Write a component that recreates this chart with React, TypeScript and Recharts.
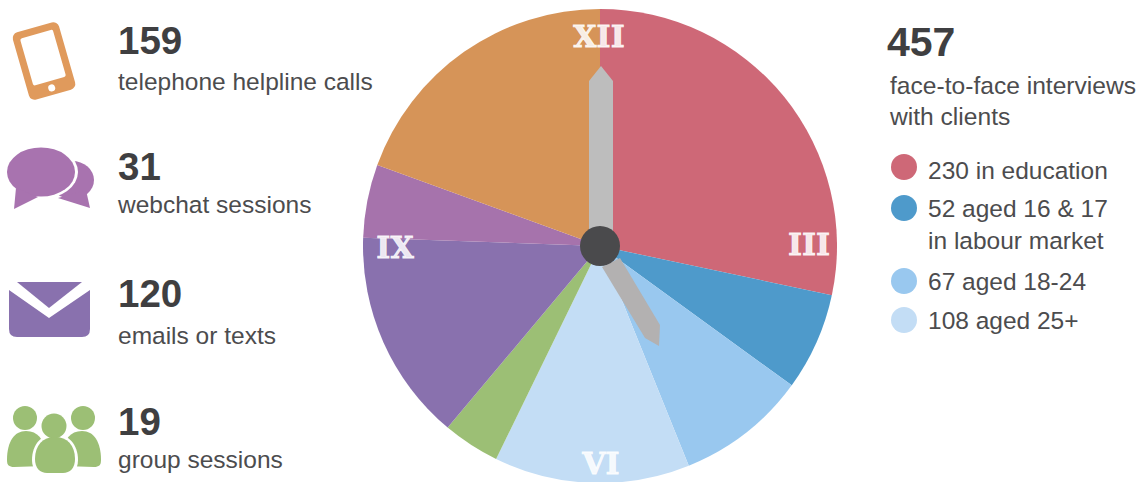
import { Cell, Pie, PieChart } from "recharts";

const segmentNames = [
  "230 in education",
  "52 aged 16 & 17 in labour market",
  "67 aged 18-24",
  "108 aged 25+",
  "group sessions",
  "emails or texts",
  "webchat sessions",
  "telephone helpline calls",
];
// slice sizes as measured off the dial, the drawn wedges are not quite proportional to the counts
const segmentValues = [102, 24, 32, 48, 14, 52, 18, 70];
const segmentColors = ["#CE6877", "#4E9ACB", "#99C8EF", "#C3DDF5", "#9CBF75", "#8971AE", "#A673AC", "#D69458"];

const data = segmentNames.map((name, i) => ({ name, value: segmentValues[i] }));

const SANS = "'Liberation Sans', Arial, sans-serif";
const SERIF = "'DejaVu Serif', serif";
const DARK = "#3f3f41";
const GREY = "#4c4c4e";

const leftStats = [
  { num: "159", label: "telephone helpline calls", y: 54, labelY: 90 },
  { num: "31", label: "webchat sessions", y: 180, labelY: 213 },
  { num: "120", label: "emails or texts", y: 307, labelY: 344 },
  { num: "19", label: "group sessions", y: 435, labelY: 468 },
];

const numerals = [
  { text: "XII", x: 599, y: 47 },
  { text: "III", x: 809, y: 255 },
  { text: "VI", x: 601, y: 474 },
  { text: "IX", x: 395, y: 258 },
];

const legendRows = [
  { color: "#CE6877", cy: 167, lines: ["230 in education"], y: 179 },
  { color: "#4E9ACB", cy: 208, lines: ["52 aged 16 & 17", "in labour market"], y: 217 },
  { color: "#99C8EF", cy: 281, lines: ["67 aged 18-24"], y: 290 },
  { color: "#C3DDF5", cy: 320, lines: ["108 aged 25+"], y: 329 },
];

function Icons() {
  return (
    <g>
      {/* phone */}
      <g transform="rotate(-16 44 61)">
        <rect x="20" y="26" width="48" height="70" rx="6" fill="#E09A5C" />
        <rect x="27" y="33" width="34" height="49" rx="2" fill="#fff" />
        <circle cx="44" cy="89" r="3.5" fill="#fff" />
      </g>
      {/* chat bubbles */}
      <ellipse cx="72" cy="180" rx="22" ry="19" fill="#A873AF" />
      <path d="M58 198 L90 208 L86 190 Z" fill="#A873AF" />
      <ellipse cx="41" cy="172" rx="37" ry="27" fill="#fff" />
      <ellipse cx="41" cy="172" rx="34" ry="24.5" fill="#A873AF" />
      <path d="M16 188 L14 209 L38 197 Z" fill="#A873AF" />
      {/* envelope */}
      <path d="M17 282 H82 L49 308 Z" fill="#8971AE" />
      <path d="M9 290 L49 318 L90 290 V329 Q90 337 82 337 H17 Q9 337 9 329 Z" fill="#8971AE" />
      {/* group */}
      <g fill="#9CBF75">
        <circle cx="25" cy="418" r="12" />
        <circle cx="83" cy="418" r="12" />
        <path d="M7 460 C7 442 14 431 26 431 C38 431 44 440 44 450 V466 L14 467 C9 467 7 465 7 460 Z" />
        <path d="M101 460 C101 442 94 431 82 431 C70 431 64 440 64 450 V466 L94 467 C99 467 101 465 101 460 Z" />
      </g>
      <circle cx="54" cy="426" r="14.5" fill="#fff" />
      <path d="M32 460 C32 444 42 434 55 434 C68 434 78 444 78 460 C78 470 72 476 64 476 H46 C38 476 32 470 32 460 Z" fill="#fff" />
      <circle cx="54" cy="426" r="12.5" fill="#9CBF75" />
      <path d="M35 459 C35 445 43 437 55 437 C67 437 75 445 75 459 C75 468 70 473 63 473 H47 C40 473 35 468 35 459 Z" fill="#9CBF75" />
    </g>
  );
}

function ClockHands() {
  return (
    <g>
      <polygon points="589,246 589,81 601,66 613,81 613,246" fill="#BDBDBD" />
      <polygon points="602,267 620,258 660,325 659,346 645,338" fill="#B3B1B1" />
      <circle cx="600" cy="246" r="20" fill="#4A4A4C" />
    </g>
  );
}

export default function App() {
  return (
    <div style={{ position: "absolute", left: 0, top: 0, width: 1142, height: 482, overflow: "hidden", background: "#fff" }}>
      <div style={{ position: "absolute", left: 0, top: 0 }}>
        <PieChart width={1142} height={482} margin={{ top: 0, right: 0, bottom: 0, left: 0 }}>
          <Pie
            data={data}
            dataKey="value"
            nameKey="name"
            cx={600}
            cy={246}
            innerRadius={0}
            outerRadius={237}
            startAngle={90}
            endAngle={-270}
            stroke="none"
            isAnimationActive={false}
          >
            {data.map((entry, index) => (
              <Cell key={`cell-${entry.name}`} fill={segmentColors[index]} />
            ))}
          </Pie>
        </PieChart>
      </div>
      <svg width={1142} height={482} style={{ position: "absolute", left: 0, top: 0 }}>
        <ClockHands />
        <Icons />
        {numerals.map((n) => (
          <text key={n.text} x={n.x} y={n.y} textAnchor="middle" fontFamily={SERIF} fontWeight="bold" fontSize={30} fill="#fff" fillOpacity={0.85} stroke="#fff" strokeOpacity={0.85} strokeWidth={0.8}>
            {n.text}
          </text>
        ))}
        {leftStats.map((s) => (
          <g key={s.num}>
            <text x={118} y={s.y} fontFamily={SANS} fontWeight="bold" fontSize={38.5} fill={DARK}>{s.num}</text>
            <text x={118} y={s.labelY} fontFamily={SANS} fontSize={24.5} fill={GREY}>{s.label}</text>
          </g>
        ))}
        <text x={887} y={56} fontFamily={SANS} fontWeight="bold" fontSize={41} fill={DARK}>457</text>
        <text x={890} y={94} fontFamily={SANS} fontSize={24.6} fill={GREY}>face-to-face interviews</text>
        <text x={890} y={125} fontFamily={SANS} fontSize={24.6} fill={GREY}>with clients</text>
        {legendRows.map((row) => (
          <g key={row.lines[0]}>
            <circle cx={904} cy={row.cy} r={13} fill={row.color} />
            {row.lines.map((line, i) => (
              <text key={line} x={928} y={row.y + i * 32} fontFamily={SANS} fontSize={24.5} fill={GREY}>{line}</text>
            ))}
          </g>
        ))}
      </svg>
    </div>
  );
}
